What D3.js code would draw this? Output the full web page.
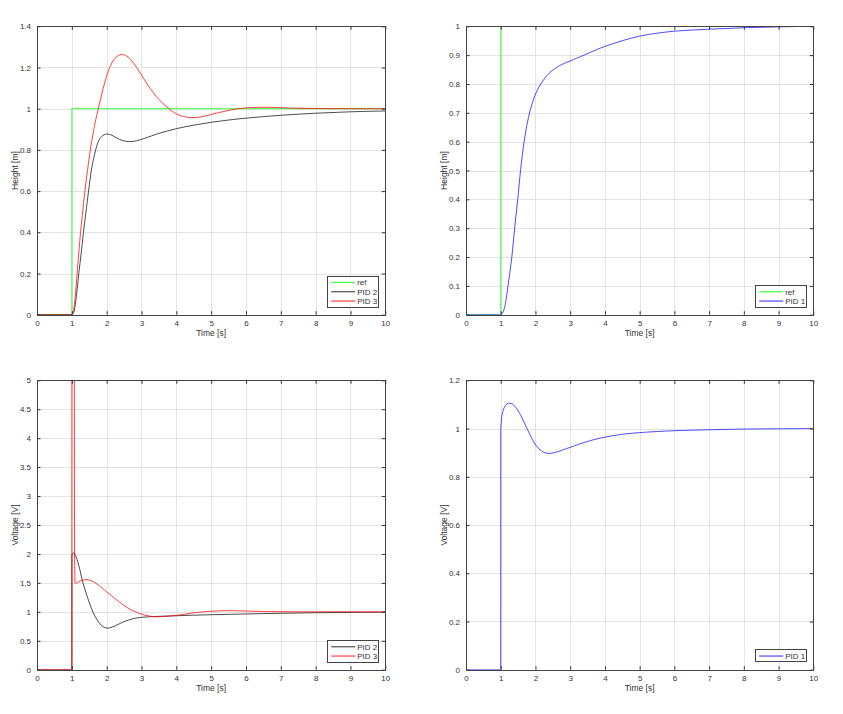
<!DOCTYPE html>
<html>
<head>
<meta charset="utf-8">
<script src="https://cdn.jsdelivr.net/npm/d3@7"></script>
<style>
  html, body { margin: 0; padding: 0; background: #fff; }
  svg { display: block; }
  text { font-family: "Liberation Sans", Arial, Helvetica, sans-serif; fill: #333; }
</style>
</head>
<body>
<svg id="chart" width="843" height="714"></svg>
<script>
// ---------------- DATA ----------------
const timeTicks = [0, 1, 2, 3, 4, 5, 6, 7, 8, 9, 10];
const heightTicks3 = [0, 0.2, 0.4, 0.6, 0.8, 1, 1.2, 1.4];
const heightTicks1 = [0, 0.1, 0.2, 0.3, 0.4, 0.5, 0.6, 0.7, 0.8, 0.9, 1];
const voltTicks3 = [0, 0.5, 1, 1.5, 2, 2.5, 3, 3.5, 4, 4.5, 5];
const voltTicks1 = [0, 0.2, 0.4, 0.6, 0.8, 1, 1.2];

// reference step
const refT = [0, 1, 10];
const refV = [0, 1, 1];

// height, PID 2
const h2T = [0, 1.0, 1.05, 1.1, 1.15, 1.2, 1.27, 1.335, 1.4, 1.48, 1.57, 1.67, 1.76, 1.86, 2.0, 2.15, 2.3, 2.45, 2.65, 2.85, 3.1, 3.5, 4.0, 4.5, 5, 5.5, 6, 7, 8, 9, 10];
const h2V = [0, 0, 0.01, 0.05, 0.12, 0.2, 0.3, 0.4, 0.49, 0.6, 0.71, 0.79, 0.84, 0.866, 0.877, 0.871, 0.857, 0.846, 0.84, 0.844, 0.857, 0.88, 0.903, 0.92, 0.934, 0.945, 0.954, 0.968, 0.978, 0.985, 0.989];

// height, PID 3
const h3T = [0, 1.0, 1.04, 1.08, 1.12, 1.16, 1.2, 1.25, 1.3, 1.375, 1.45, 1.53, 1.6, 1.665, 1.76, 1.85, 1.95, 2.05, 2.15, 2.27, 2.43, 2.58, 2.72, 2.86, 3.0, 3.2, 3.5, 3.79, 4.0, 4.2, 4.43, 4.7, 5.0, 5.4, 5.74, 6.0, 6.4, 6.8, 7.3, 8, 9, 10];
const h3V = [0, 0, 0.015, 0.06, 0.13, 0.22, 0.3, 0.4, 0.48, 0.6, 0.7, 0.8, 0.87, 0.93, 1.0, 1.065, 1.13, 1.185, 1.222, 1.25, 1.263, 1.255, 1.232, 1.2, 1.164, 1.11, 1.045, 1.0, 0.975, 0.962, 0.957, 0.96, 0.972, 0.988, 0.999, 1.004, 1.007, 1.006, 1.003, 1.001, 1.0, 1.0];

// height, PID 1
const h1T = [0, 1.0, 1.05, 1.1, 1.15, 1.21, 1.32, 1.40, 1.49, 1.57, 1.65, 1.75, 1.85, 1.97, 2.1, 2.25, 2.4, 2.6, 2.8, 3.0, 3.4, 3.86, 4.5, 5, 5.5, 6, 7, 8, 9, 10];
const h1V = [0, 0, 0.005, 0.02, 0.05, 0.1, 0.2, 0.3, 0.4, 0.5, 0.58, 0.655, 0.71, 0.755, 0.79, 0.817, 0.838, 0.857, 0.87, 0.88, 0.9, 0.924, 0.95, 0.966, 0.976, 0.983, 0.99, 0.995, 0.998, 1.0];

// voltage, PID 2
const u2T = [0, 1.0, 1.001, 1.05, 1.1, 1.2, 1.32, 1.45, 1.61, 1.75, 1.87, 1.99, 2.1, 2.25, 2.5, 2.75, 3.0, 3.5, 4, 5, 6, 7, 8, 9, 10];
const u2V = [0, 0, 1.98, 2.02, 1.98, 1.8, 1.5, 1.25, 0.99, 0.84, 0.755, 0.72, 0.725, 0.76, 0.83, 0.88, 0.905, 0.922, 0.932, 0.95, 0.963, 0.975, 0.984, 0.99, 0.994];

// voltage, PID 3
const u3T = [0, 1.0, 1.003, 1.07, 1.078, 1.09, 1.106, 1.2, 1.3, 1.41, 1.55, 1.7, 1.85, 1.99, 2.2, 2.47, 2.75, 3.0, 3.2, 3.4, 3.6, 3.82, 4.2, 4.6, 5.0, 5.5, 6.0, 6.5, 7, 8, 9, 10];
const u3V = [0, 0, 30, 6, 2.0, 1.52, 1.49, 1.52, 1.545, 1.555, 1.54, 1.49, 1.42, 1.35, 1.25, 1.12, 1.02, 0.96, 0.93, 0.915, 0.918, 0.927, 0.955, 0.99, 1.01, 1.02, 1.013, 1.006, 1.002, 1.0, 1.0, 1.0];

// voltage, PID 1
const u1T = [0, 1.0, 1.001, 1.03, 1.07, 1.12, 1.18, 1.26, 1.35, 1.45, 1.55, 1.64, 1.74, 1.85, 1.97, 2.1, 2.23, 2.37, 2.55, 2.8, 3.0, 3.4, 3.86, 4.5, 5, 6, 7, 8, 9, 10];
const u1V = [0, 0, 1.0, 1.05, 1.075, 1.092, 1.102, 1.105, 1.1, 1.085, 1.062, 1.036, 1.005, 0.972, 0.94, 0.916, 0.902, 0.897, 0.9, 0.912, 0.922, 0.942, 0.96, 0.976, 0.983, 0.991, 0.995, 0.998, 0.999, 1.0];

const COLORS = { ref: "#00ff00", pid1: "#0000ff", pid2: "#000000", pid3: "#ff0000" };

// ---------------- DRAWING ----------------
const svg = d3.select("#chart");
let clipId = 0;

function zip(t, v) { return t.map((d, i) => ({ t: d, v: v[i] })); }

function panel(cfg) {
  const { left, top, right, bottom } = cfg;
  const x = d3.scaleLinear().domain([0, 10]).range([left, right]);
  const y = d3.scaleLinear().domain(cfg.yDomain).range([bottom, top]);
  const g = svg.append("g");

  g.append("rect").attr("x", left).attr("y", top).attr("width", right - left).attr("height", bottom - top).attr("fill", "#fff");

  // grid
  const crisp = v => Math.round(v) + 0.5;
  g.append("g").selectAll("line").data(timeTicks.slice(1, -1)).join("line")
    .attr("x1", d => crisp(x(d))).attr("x2", d => crisp(x(d)))
    .attr("y1", top).attr("y2", bottom)
    .attr("stroke", "#e3e3e3").attr("stroke-width", 1);
  g.append("g").selectAll("line").data(cfg.yTicks.slice(1, -1)).join("line")
    .attr("y1", d => crisp(y(d))).attr("y2", d => crisp(y(d)))
    .attr("x1", left).attr("x2", right)
    .attr("stroke", "#e3e3e3").attr("stroke-width", 1);

  const id = "clip" + (clipId++);
  svg.append("clipPath").attr("id", id).append("rect")
    .attr("x", left).attr("y", top).attr("width", right - left).attr("height", bottom - top);

  const lines = g.append("g").attr("clip-path", `url(#${id})`);
  cfg.series.forEach(s => {
    const pts = zip(s.t, s.v);
    let d;
    if (s.step) {
      d = d3.line().x(p => x(p.t)).y(p => y(p.v)).curve(d3.curveStepAfter)(pts);
    } else {
      // straight segments through the step/jump, smooth curve afterwards
      const k = s.jump;
      const lin = d3.line().x(p => x(p.t)).y(p => y(p.v)).curve(d3.curveLinear)(pts.slice(0, k + 1));
      const smooth = d3.line().x(p => x(p.t)).y(p => y(p.v)).curve(d3.curveCatmullRom.alpha(0.5))(pts.slice(k));
      d = lin + smooth.replace(/^M[^LC]*/, "");
    }
    lines.append("path").attr("d", d).attr("fill", "none")
      .attr("stroke", s.color).attr("stroke-width", s.width || 1)
      .attr("stroke-opacity", s.opacity || 1)
      .attr("stroke-linejoin", "round");
  });

  // axes with inward ticks on all four sides
  const tl = 3.5;
  const axBottom = d3.axisBottom(x).tickValues(timeTicks).tickSizeInner(-tl).tickSizeOuter(0).tickFormat(d => String(d)).tickPadding(6);
  const axTop = d3.axisTop(x).tickValues(timeTicks).tickSizeInner(-tl).tickSizeOuter(0).tickFormat("");
  const axLeft = d3.axisLeft(y).tickValues(cfg.yTicks).tickSizeInner(-tl).tickSizeOuter(0).tickFormat(d => String(d)).tickPadding(6);
  const axRight = d3.axisRight(y).tickValues(cfg.yTicks).tickSizeInner(-tl).tickSizeOuter(0).tickFormat("");

  function style(sel) {
    sel.select(".domain").remove();
    sel.selectAll(".tick line").attr("stroke", "#333").attr("stroke-width", 1);
    sel.selectAll(".tick text").attr("font-size", 8).attr("fill", "#333")
      .style("font-family", '"Liberation Sans", Arial, sans-serif');
  }
  g.append("g").attr("transform", `translate(0,${bottom})`).call(axBottom).call(style);
  g.append("g").attr("transform", `translate(0,${top})`).call(axTop).call(style);
  g.append("g").attr("transform", `translate(${left},0)`).call(axLeft).call(style);
  g.append("g").attr("transform", `translate(${right},0)`).call(axRight).call(style);

  g.append("rect").attr("x", Math.round(left) + 0.5).attr("y", Math.round(top) + 0.5)
    .attr("width", Math.round(right) - Math.round(left)).attr("height", Math.round(bottom) - Math.round(top))
    .attr("fill", "none").attr("stroke", "#444").attr("stroke-width", 1);

  g.append("text").attr("x", (left + right) / 2).attr("y", bottom + 21.5)
    .attr("text-anchor", "middle").attr("font-size", 8.5).text("Time [s]");
  g.append("text").attr("transform", `translate(${left - 19.5},${(top + bottom) / 2}) rotate(-90)`)
    .attr("text-anchor", "middle").attr("font-size", 8.5).text(cfg.yLabel);

  // legend
  const leg = cfg.series.filter(s => s.name);
  const rowH = 9.3;
  const bw = 50.5, bh = leg.length * rowH + 3;
  const bx = right - 7.6 - bw, by = bottom - 8 - bh;
  const lg = g.append("g");
  lg.append("rect").attr("x", Math.round(bx) + 0.5).attr("y", Math.round(by) + 0.5)
    .attr("width", Math.round(bw)).attr("height", Math.round(bh))
    .attr("fill", "#fff").attr("stroke", "#444").attr("stroke-width", 1);
  leg.forEach((s, i) => {
    const ry = by + 1.5 + rowH * (i + 0.5) + 0.5;
    lg.append("line").attr("x1", bx + 4).attr("x2", bx + 28).attr("y1", ry).attr("y2", ry)
      .attr("stroke", s.color).attr("stroke-width", 1.2).attr("stroke-opacity", s.opacity || 1);
    lg.append("text").attr("x", bx + 30).attr("y", ry).attr("dy", "0.35em")
      .attr("font-size", 8).text(s.name);
  });
}

const L1 = 37, R1 = 385.3, L2 = 466, R2 = 813.3;
const T1 = 26.3, B1 = 314.7, T2 = 380.3, B2 = 669.7;

panel({
  left: L1, right: R1, top: T1, bottom: B1, yDomain: [0, 1.4], yTicks: heightTicks3, yLabel: "Height [m]",
  series: [
    { name: "ref", t: refT, v: refV, color: COLORS.ref, step: true, opacity: 0.75 },
    { name: "PID 2", t: h2T, v: h2V, color: COLORS.pid2, opacity: 0.7, jump: 1 },
    { name: "PID 3", t: h3T, v: h3V, color: COLORS.pid3, opacity: 0.75, jump: 1 }
  ]
});
panel({
  left: L2, right: R2, top: T1, bottom: B1, yDomain: [0, 1], yTicks: heightTicks1, yLabel: "Height [m]",
  series: [
    { name: "ref", t: refT, v: refV, color: COLORS.ref, step: true, opacity: 0.75 },
    { name: "PID 1", t: h1T, v: h1V, color: COLORS.pid1, opacity: 0.7, jump: 1 }
  ]
});
panel({
  left: L1, right: R1, top: T2, bottom: B2, yDomain: [0, 5], yTicks: voltTicks3, yLabel: "Voltage [V]",
  series: [
    { name: "PID 2", t: u2T, v: u2V, color: COLORS.pid2, opacity: 0.7, jump: 2 },
    { name: "PID 3", t: u3T, v: u3V, color: COLORS.pid3, opacity: 0.75, jump: 5 }
  ]
});
panel({
  left: L2, right: R2, top: T2, bottom: B2, yDomain: [0, 1.2], yTicks: voltTicks1, yLabel: "Voltage [V]",
  series: [
    { name: "PID 1", t: u1T, v: u1V, color: COLORS.pid1, opacity: 0.7, jump: 2 }
  ]
});
</script>
</body>
</html>
